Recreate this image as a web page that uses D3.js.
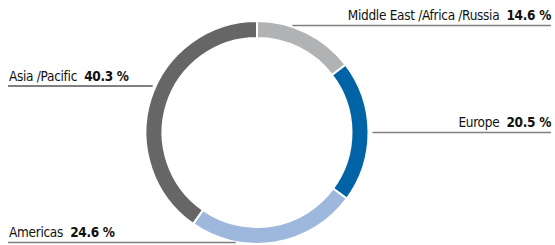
<!DOCTYPE html>
<html>
<head>
<meta charset="utf-8">
<script src="https://cdn.jsdelivr.net/npm/d3@7.9.0/dist/d3.min.js"></script>
<style>
  body { margin: 0; background: #fff; }
  svg { display: block; }
  text { font-family: "Liberation Sans Narrow", "DejaVu Sans Condensed", sans-serif; font-size: 13.5px; letter-spacing: -0.3px; fill: #111; }
</style>
</head>
<body>
<svg width="555" height="245"></svg>
<script>
// data
const regions = ['Middle East /Africa /Russia', 'Europe', 'Americas', 'Asia /Pacific'];
const shares = [14.6, 20.5, 24.6, 40.3];
const colors = ['#b1b2b4', '#0063a6', '#9db7dd', '#666666'];

// label layout (y of leader line, which side)
const labelY = [25.5, 132.5, 242.5, 86];
const labelSide = ['right', 'right', 'left', 'left'];
const lineColors = ['#808080', '#808080', '#808080', '#000'];

const svg = d3.select('svg');
const cx = 257, cy = 132.5, rOuter = 111.5, rInner = 94.5;

const pie = d3.pie().sort(null).value((d) => d)(shares);
const arc = d3.arc().innerRadius(rInner).outerRadius(rOuter);

const g = svg.append('g').attr('transform', `translate(${cx},${cy})`);
g.selectAll('path')
  .data(pie)
  .join('path')
  .attr('d', arc)
  .attr('fill', (d, i) => colors[i])
  .attr('stroke', '#fff')
  .attr('stroke-width', 2);

// leader lines + labels
regions.forEach((name, i) => {
  let y = labelY[i];
  let dy = y - cy;
  let dx = Math.sqrt(Math.max(0, rOuter * rOuter - dy * dy));
  let right = labelSide[i] === 'right';
  let x1 = right ? cx + dx + 4 : 8;
  let x2 = right ? 551 : cx - dx - 3;

  svg.append('line')
    .attr('x1', x1).attr('x2', x2)
    .attr('y1', y).attr('y2', y)
    .attr('stroke', lineColors[i])
    .attr('stroke-width', i === 3 ? 1 : 1.6);

  let t = svg.append('text')
    .attr('x', right ? 551 : 9)
    .attr('y', y - 5.5)
    .attr('text-anchor', right ? 'end' : 'start');
  t.append('tspan').text(name + '  ').attr('xml:space', 'preserve');
  t.append('tspan').attr('font-weight', 'bold').text(d3.format('.1f')(shares[i]) + ' %');
});
</script>
</body>
</html>
